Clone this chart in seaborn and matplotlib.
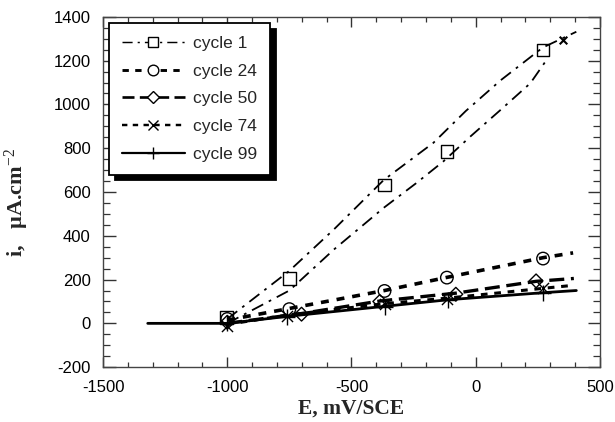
import numpy as np
import pandas as pd
import matplotlib
matplotlib.use("Agg")
import matplotlib.pyplot as plt
from matplotlib.lines import Line2D
from matplotlib.ticker import MultipleLocator
import seaborn as sns

# ---- data: current density i (uA/cm2) vs potential E (mV/SCE) ----
labels = ["cycle 1", "cycle 24", "cycle 50", "cycle 74", "cycle 99"]

# cycle 1: forward and reverse branches
c1_up_E = [-1000, -750, -570, -370, -170, -40, 100, 270, 405]
c1_up_i = [20, 240, 430, 655, 825, 970, 1110, 1260, 1332]
c1_dn_E = [-1000, -750, -570, -370, -240, -130, -20, 100, 220, 285]
c1_dn_i = [0, 150, 338, 528, 640, 740, 855, 975, 1097, 1203]
c1_mk_E = [-1003, -750, -367, -116, 271]
c1_mk_i = [27, 205, 631, 785, 1248]
c1_end_E = [352]
c1_end_i = [1294]

c24_E = [-1000, -750, -367, -116, 271, 392]
c24_i = [15, 68, 150, 210, 300, 322]
c24_mk_E = [-1000, -750, -367, -116, 271]
c24_mk_i = [20, 65, 148, 209, 296]

c50_E = [-1000, -701, -386, -80, 243, 395]
c50_i = [0, 45, 102, 138, 192, 205]
c50_mk_E = [-1000, -701, -386, -80, 243]
c50_mk_i = [5, 42, 100, 133, 194]

c74_E = [-1000, -758, -367, -116, 271, 395]
c74_i = [-5, 38, 90, 115, 160, 174]
c74_mk_E = [-1000, -758, -367, -116, 271]
c74_mk_i = [-10, 35, 88, 110, 160]

c99_E = [-1320, -1000, -758, -365, -110, 271, 405]
c99_i = [0, 0, 32, 78, 108, 140, 150]
c99_mk_E = [-1000, -758, -365, -110, 271]
c99_mk_i = [0, 30, 76, 106, 138]

xticks = [-1500, -1000, -500, 0, 500]
yticks = [-200, 0, 200, 400, 600, 800, 1000, 1200, 1400]

# ---- styling ----
sns.set_theme(style="ticks")
plt.rcParams["font.family"] = ["Liberation Sans", "DejaVu Sans"]
plt.rcParams["axes.unicode_minus"] = False
plt.rcParams["mathtext.fontset"] = "custom"
plt.rcParams["mathtext.rm"] = "Liberation Serif"
plt.rcParams["mathtext.it"] = "Liberation Serif:italic"
plt.rcParams["mathtext.bf"] = "Liberation Serif:bold"

fig = plt.figure(figsize=(6.15, 4.22), dpi=100)
ax = fig.add_axes([0.1675, 0.130, 0.808, 0.830])

K = "black"
styles = {
    "cycle 1": dict(ls=(0, (7, 3.5, 1.5, 3.5)), lw=1.3, marker="s", ms=9),
    "cycle 24": dict(ls=(0, (2.2, 2.2)), lw=2.6, marker="o", ms=9),
    "cycle 50": dict(ls=(0, (4.5, 2.0)), lw=2.4, marker="D", ms=7),
    "cycle 74": dict(ls=(0, (2.2, 2.2)), lw=2.2, marker="x", ms=8),
    "cycle 99": dict(ls="-", lw=2.0, marker="+", ms=11),
}

lines = [
    ("cycle 1", c1_up_E, c1_up_i),
    ("cycle 1", c1_dn_E, c1_dn_i),
    ("cycle 24", c24_E, c24_i),
    ("cycle 50", c50_E, c50_i),
    ("cycle 74", c74_E, c74_i),
    ("cycle 99", c99_E, c99_i),
]
for name, E, I in lines:
    st = styles[name]
    sns.lineplot(x=E, y=I, ax=ax, color=K, linestyle=st["ls"], linewidth=st["lw"],
                 estimator=None, sort=False)

marks = [
    ("cycle 1", c1_mk_E, c1_mk_i),
    ("cycle 24", c24_mk_E, c24_mk_i),
    ("cycle 50", c50_mk_E, c50_mk_i),
    ("cycle 74", c74_mk_E, c74_mk_i),
    ("cycle 99", c99_mk_E, c99_mk_i),
]
for name, E, I in marks:
    st = styles[name]
    if st["marker"] in ("x", "+"):
        sns.scatterplot(x=E, y=I, ax=ax, marker=st["marker"], s=st["ms"] ** 2,
                        color=K, linewidth=1.0, zorder=3)
    else:
        sns.scatterplot(x=E, y=I, ax=ax, marker=st["marker"], s=st["ms"] ** 2,
                        color=K, facecolor="none", edgecolor=K, linewidth=1.0, zorder=3)

# small end-of-scan mark on the cycle 1 curve
sns.scatterplot(x=c1_end_E, y=c1_end_i, ax=ax, marker="x", s=30, color=K,
                linewidth=1.5, zorder=3)

ax.set_xlim(-1500, 500)
ax.set_ylim(-200, 1400)
ax.set_xticks(xticks)
ax.set_yticks(yticks)
ax.xaxis.set_minor_locator(MultipleLocator(100))
ax.yaxis.set_minor_locator(MultipleLocator(50))
ax.tick_params(axis="both", which="both", direction="in", top=True, right=True,
               color="#333333", labelsize=12, labelcolor=K)
ax.tick_params(axis="x", which="major", length=7, width=1, pad=9)
ax.tick_params(axis="x", which="minor", length=3.5, width=0.9)
ax.tick_params(axis="y", which="major", length=9, width=1, pad=9)
ax.tick_params(axis="y", which="minor", length=5, width=0.9)
for sp in ax.spines.values():
    sp.set_visible(True)
    sp.set_color("#444444")
    sp.set_linewidth(1.0)

ax.set_xlabel("E, mV/SCE", family="Liberation Serif", fontweight="bold",
              fontsize=15.5, labelpad=3)
ax.set_ylabel("i,   \u00b5A.cm$^{-2}$", family="Liberation Serif", fontweight="bold",
              fontsize=16)
ax.yaxis.set_label_coords(-0.145, 0.47)

handles = [
    Line2D([0], [0], color=K, linestyle=styles[n]["ls"], linewidth=styles[n]["lw"] * 0.8,
           marker=styles[n]["marker"], markersize=styles[n]["ms"] * 0.85,
           markerfacecolor="white", markeredgecolor=K, markeredgewidth=1.0)
    for n in labels
]
leg = ax.legend(handles, labels, loc="upper left", bbox_to_anchor=(0.0, 1.0),
                borderaxespad=0.35, frameon=True, fancybox=False,
                shadow={"color": "black", "alpha": 1.0, "ox": 4, "oy": -4},
                fontsize=12.5, handlelength=3.6, handletextpad=0.5,
                labelspacing=0.72, borderpad=0.75, numpoints=1)
leg.get_frame().set_edgecolor(K)
leg.get_frame().set_linewidth(1.3)
leg.get_frame().set_facecolor("white")
leg.get_frame().set_alpha(1.0)

fig.savefig("out.png", dpi=100, facecolor="white")
